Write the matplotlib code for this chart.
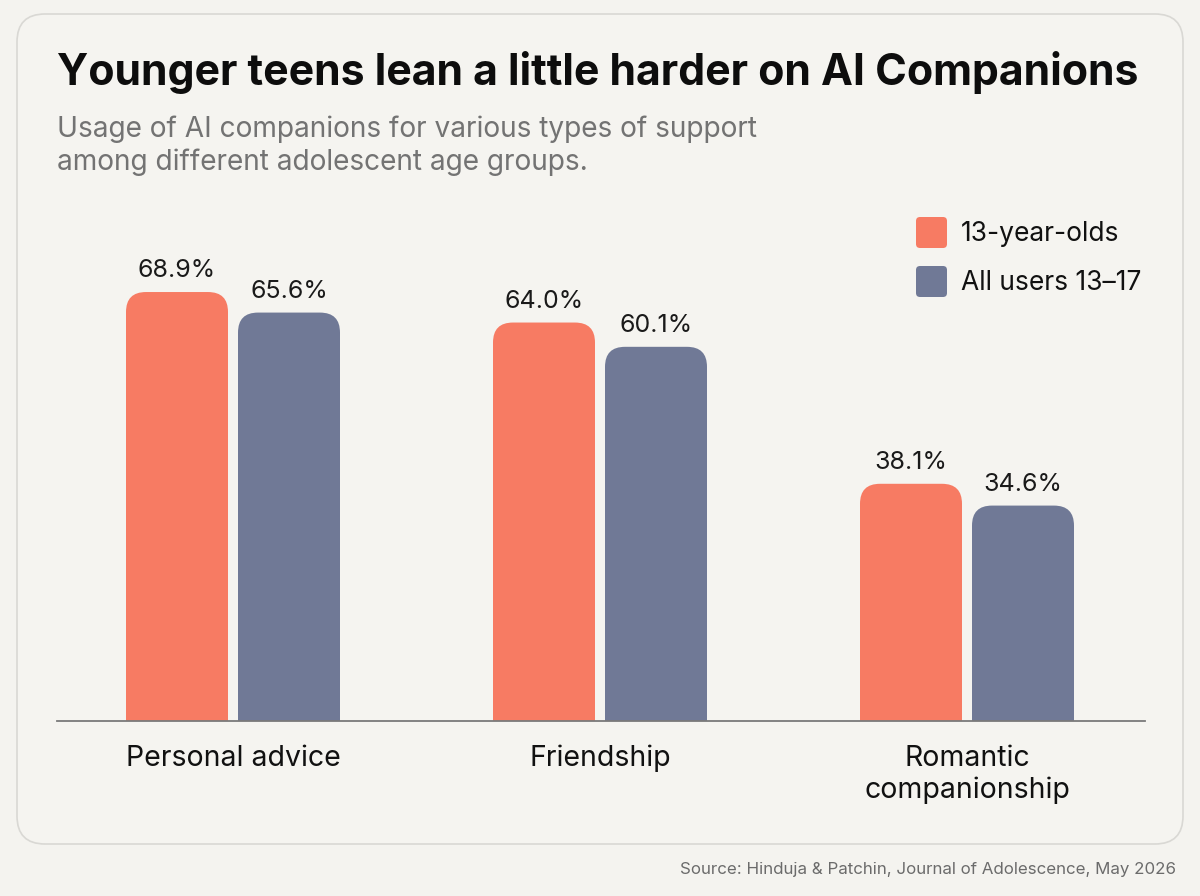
import numpy as np
import matplotlib
matplotlib.use("Agg")
import matplotlib.pyplot as plt
from matplotlib.patches import FancyBboxPatch

plt.rcParams['font.family'] = ['Inter', 'DejaVu Sans']

# ---- data ----
categories = ["Personal advice", "Friendship", "Romantic\ncompanionship"]
series_names = ["13-year-olds", "All users 13\u201317"]
teens_13 = [68.9, 64.0, 38.1]
all_users = [65.6, 60.1, 34.6]

TITLE = "Younger teens lean a little harder on AI Companions"
SUBTITLE = "Usage of AI companions for various types of support\namong different adolescent age groups."
SOURCE = "Source: Hinduja & Patchin, Journal of Adolescence, May 2026"

BG = "#f4f3ef"
CORAL = "#f77b63"
SLATE = "#707996"
W, H = 1200, 896

fig = plt.figure(figsize=(W / 100, H / 100), dpi=100)
fig.patch.set_facecolor(BG)

def px(x, y):
    # pixel (top-left origin) -> inches for dpi_scale_trans
    return x / 100, (H - y) / 100

# card (behind the axes)
cx, cy = px(17, 844)
card = FancyBboxPatch((cx, cy), 11.66, 8.30,
                      boxstyle="round,pad=0,rounding_size=0.28",
                      transform=fig.dpi_scale_trans, facecolor="#f5f4f0",
                      edgecolor="#d9d8d4", linewidth=1.2, zorder=-5)
fig.patches.append(card)

# axes: baseline at y=721px, top at y=200px, x from 57 to 1145
ax_l, ax_r, ax_b, ax_t = 57, 1145, 721, 200
ax = fig.add_axes([ax_l / W, (H - ax_b) / H, (ax_r - ax_l) / W, (ax_b - ax_t) / H])
ax.set_facecolor("none")
ax.set_zorder(2)

grp_px = 367.0
px_per_unit = 6.226
x = np.arange(len(categories))
ax.set_xlim(-176 / grp_px, 2 + 178 / grp_px)
ax.set_ylim(0, (ax_b - ax_t) / px_per_unit)

bw = 102 / grp_px
off = 56 / grp_px
rad = 20 / grp_px
aspect = grp_px / px_per_unit

for vals, color, sign in [(teens_13, CORAL, -1), (all_users, SLATE, 1)]:
    for xi, v in zip(x, vals):
        left = xi + sign * off - bw / 2
        bar = FancyBboxPatch((left, -10), bw, v + 10,
                             boxstyle=f"round,pad=0,rounding_size={rad}",
                             mutation_aspect=aspect, facecolor=color,
                             edgecolor="none", zorder=2, clip_on=True)
        ax.add_patch(bar)
        ax.text(xi + sign * off, v + 10 / px_per_unit, f"{v:.1f}%",
                ha="center", va="bottom", fontsize=18, color="#1a1a1a")

for s in ["top", "right", "left"]:
    ax.spines[s].set_visible(False)
ax.spines["bottom"].set_color("#7a7a7a")
ax.spines["bottom"].set_linewidth(1.3)
ax.spines["bottom"].set_zorder(3)
ax.set_yticks([])
ax.set_xticks(x)
ax.set_xticklabels(categories, fontsize=20.5, color="#111111", linespacing=1.25, va="top")
ax.tick_params(axis="x", length=0, pad=17)

# title & subtitle
fig.text(57 / W, 1 - 85 / H, TITLE, fontsize=30.8, fontweight="bold",
         color="#0d0d0d", ha="left", va="baseline")
fig.text(57 / W, 1 - 137 / H, SUBTITLE.split("\n")[0], fontsize=20.2,
         color="#737373", ha="left", va="baseline")
fig.text(57 / W, 1 - 170 / H, SUBTITLE.split("\n")[1], fontsize=20.2,
         color="#737373", ha="left", va="baseline")

# legend
for i, (name, color) in enumerate(zip(series_names, [CORAL, SLATE])):
    top = 217 + i * 49
    lx, ly = px(916, top + 31)
    sq = FancyBboxPatch((lx, ly), 0.31, 0.31,
                        boxstyle="round,pad=0,rounding_size=0.04",
                        transform=fig.dpi_scale_trans, facecolor=color,
                        edgecolor="none")
    fig.patches.append(sq)
    fig.text(961 / W, 1 - (top + 17) / H, name, fontsize=19,
             color="#111111", ha="left", va="center")

# source
fig.text(1176 / W, 1 - 869 / H, SOURCE, fontsize=12.2, color="#6b6b6b",
         ha="right", va="center")

fig.savefig("out.png", dpi=100, facecolor=BG)
